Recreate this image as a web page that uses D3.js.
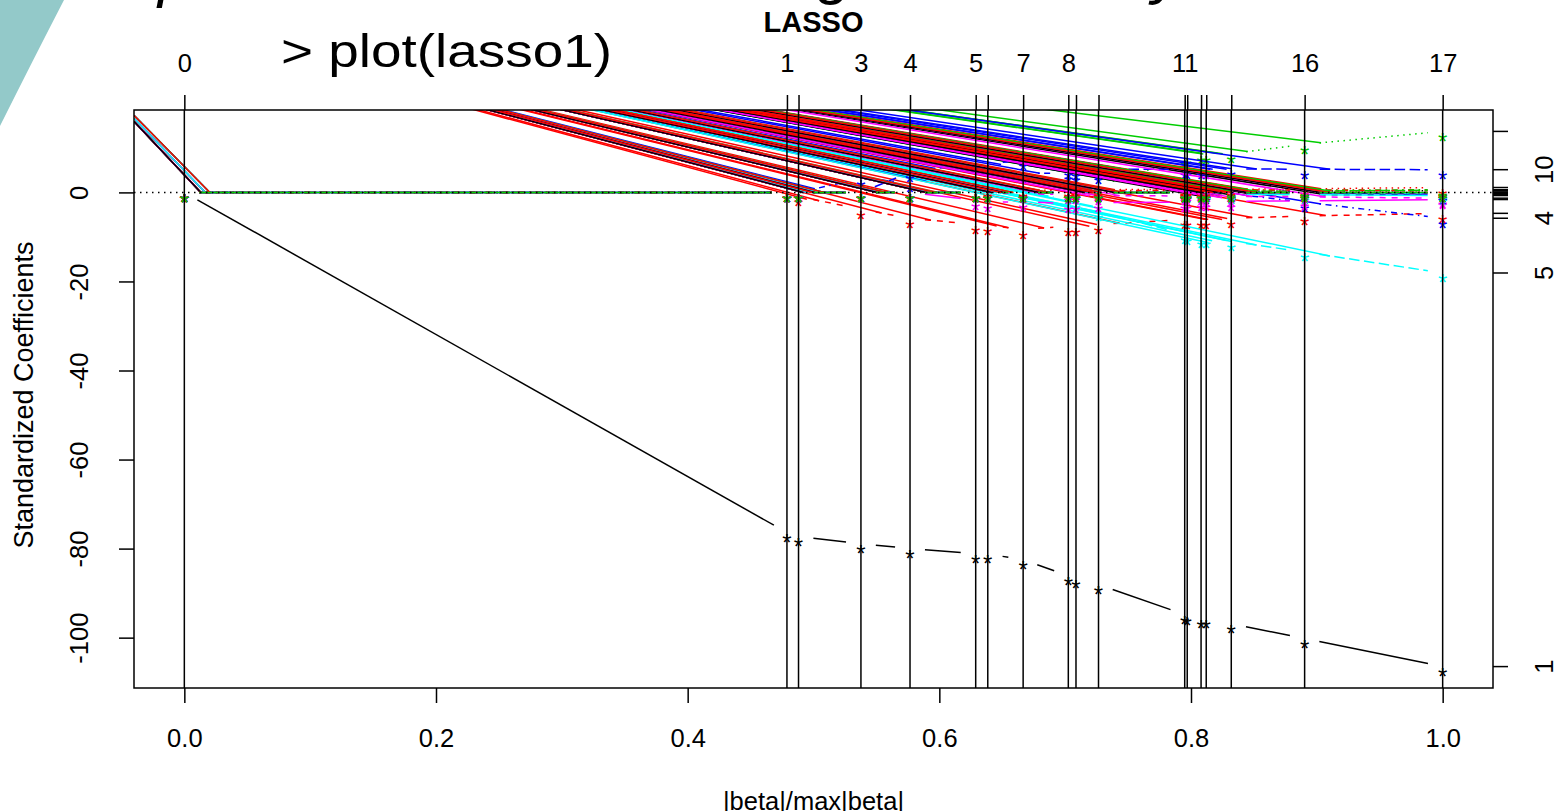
<!DOCTYPE html>
<html>
<head>
<meta charset="utf-8">
<title>LASSO coefficient path</title>
<script src="https://cdn.jsdelivr.net/npm/d3@7/dist/d3.min.js"></script>
<style>
  html, body { margin: 0; padding: 0; background: #fff; overflow: hidden; }
  svg { display: block; font-family: "Liberation Sans", Arial, sans-serif; }
</style>
</head>
<body>
<svg id="chart" width="1556" height="811"></svg>
<script>
// |beta| / max|beta| at each LARS breakpoint
const steps = [0, 0.4789, 0.4881, 0.5377, 0.5767, 0.6289, 0.6385, 0.6666, 0.7025,
               0.7086, 0.7265, 0.7950, 0.7970, 0.8080, 0.8121, 0.8320, 0.8903, 1.0];
// degrees of freedom printed on the top axis (blank where the label is crowded out)
const dfTopLabels = ["0", "1", "", "3", "4", "5", "", "7", "8", "", "", "11", "", "", "", "", "16", "17"];
const xTickValues = [0, 0.2, 0.4, 0.6, 0.8, 1.0];
const yTickValues = [-100, -80, -60, -40, -20, 0];

// standardized coefficient of each variable at every step
const coef1  = [0, -76.4, -77.3, -78.9, -80.0, -81.1, -81.2, -82.5, -86.1, -86.7, -88.1, -94.8, -95.1, -95.7, -95.8, -96.9, -100.2, -106.5];
const coef2  = [0, 0, -0.9, -3.8, -5.8, -7.2, -7.4, -8.3, -7.6, -7.6, -7.2, -6.1, -6.1, -6.1, -6.1, -5.8, -5.3, -4.7];
const coef3  = [0, 0, 0, 0, 0, 0, 0, 0, 0, 0, 1.5, 7.6, 7.8, 8.5, 8.6, 8.7, 10.8, 13.7];
const coef4  = [0, 0, 0, 3.1, 2.2, 3.8, 3.6, 4.3, 4.3, 4.1, 4.0, 0.3, 0.2, 0.1, -0.1, -0.3, -2.2, -5.8];
const coef5  = [0, 0, 0, 0, 0, 0, 0, 0, -1.5, -2.0, -4.3, -9.4, -9.6, -10.3, -10.4, -11.0, -13.4, -18.1];
const coef6  = [0, 0, 0, 0, 0, -1.8, -2.2, -2.1, -2.5, -2.5, -2.3, -2.2, -2.2, -2.1, -2.1, -2.0, -1.9, -1.6];
const coef7  = [0, 0, 0, 0, 0, 0, 0, 0, 0, 0, 0, -0.2, -0.3, -0.3, -0.4, -0.4, -0.5, -0.6];
const coef8  = [0, 0, 0, 0, 0, 0, 0.3, 0.5, 0.5, 0.6, 0.6, 0.7, 0.7, 0.7, 0.7, 0.7, 0.8, 1.1];
const coef9  = [0, 0, 0, 0, 0, 0, 0, 0, 0, 0, 0, 0, 0.2, 0.3, 0.3, 0.4, 0.5, 0.6];
const coef10 = [0, 0, 0, 0, 4.5, 6.7, 6.5, 7.1, 5.2, 5.0, 5.2, 5.2, 5.2, 5.2, 5.2, 5.3, 5.2, 5.1];
const coef11 = [0, 0, 0, 0, 0, 0, 0, 0, 0, 0, 0, 0, 0, -0.2, -0.3, -0.4, -0.5, -0.7];
const coef12 = [0, 0, 0, 0, 0, 0, 0, -0.3, -0.5, -0.6, -0.7, -0.8, -0.8, -0.8, -0.9, -0.9, -1.0, -1.3];
const coef13 = [0, 0, 0, 0, 0, 0, 0, 0, 0, 0, 0, 0, 0, 0, 0.1, 0.2, 0.3, 0.4];
const coef14 = [0, 0, 0, 0, 0, 0, 0, 0, 0, 0.3, 0.4, 0.5, 0.5, 0.5, 0.5, 0.6, 0.5, 0.4];
const coef15 = [0, 0, 0, 0, 0, 0, 0, 0, 0, 0, 0, 0, 0, 0, 0, 0.2, 0.3, 0.5];
const coef16 = [0, 0, 0, 0, 0, 0, 0, 0, 0, 0, 0, 0, 0, 0, 0, 0, -0.1, -0.4];
const coef17 = [0, 0, 0, 0, 0, 0, 0, 0, 0, 0, 0, 0, 0, 0, 0, 0, 0, -0.3];
// variables that never leave zero along the path
const coef18 = [0, 0, 0, 0, 0, 0, 0, 0, 0, 0, 0, 0, 0, 0, 0, 0, 0, 0];
const coef19 = [0, 0, 0, 0, 0, 0, 0, 0, 0, 0, 0, 0, 0, 0, 0, 0, 0, 0];
const coef20 = [0, 0, 0, 0, 0, 0, 0, 0, 0, 0, 0, 0, 0, 0, 0, 0, 0, 0];
const coef21 = [0, 0, 0, 0, 0, 0, 0, 0, 0, 0, 0, 0, 0, 0, 0, 0, 0, 0];

// variable numbers that get a printed label on the right-hand axis
const rightAxisLabelled = [1, 4, 5, 10];

// ------------------------------------------------------------------
const coefs = [coef1, coef2, coef3, coef4, coef5, coef6, coef7, coef8, coef9, coef10, coef11,
               coef12, coef13, coef14, coef15, coef16, coef17, coef18, coef19, coef20, coef21];

const svg = d3.select("#chart");
const box = { l: 134, r: 1493, t: 110, b: 688 };
const pad4 = ([a, b]) => { const d = (b - a) * 0.04; return [a - d, b + d]; };

const x = d3.scaleLinear().domain(pad4(d3.extent(steps))).range([box.l, box.r]);
const y = d3.scaleLinear().domain(pad4(d3.extent(coefs.flat()))).range([box.b, box.t]);

const palette = ["#000000", "#FF0000", "#00CD00", "#0000FF", "#00FFFF", "#FF00FF"];
const u = 1.5;                                   // dash unit, px
const ltyDash = [null, [4, 4], [1, 3], [1, 3, 4, 3], [7, 3]].map(p => p && p.map(v => v * u));
const lw = 1.5;
const gap = 15;                                  // type "b": space left around each point
const fontAxis = 25.5;

// dashed polylines in this export begin at the device origin, which leaves a solid
// stroke running from there to the end of each segment's first dash
const penOrigin = { step: -0.1433, coef: 47.0 };

// --- decoration of the slide the plot sits on
svg.append("path")
  .attr("d", "M0,0 L64,0 Q34,58 0,126 Z")
  .attr("fill", "#93c9c9");
svg.append("text").attr("x", 158).attr("y", -5).attr("font-size", 62)
  .attr("font-style", "italic").attr("fill", "#000").text("p");
svg.append("text").attr("x", 818).attr("y", -8).attr("font-size", 62)
  .attr("font-style", "italic").attr("fill", "#000").text("g");
svg.append("text").attr("x", 1152).attr("y", -8).attr("font-size", 62)
  .attr("font-style", "italic").attr("fill", "#000").text("y");
svg.append("text").attr("x", 281).attr("y", 67).attr("font-size", 46)
  .attr("textLength", 331).attr("lengthAdjust", "spacingAndGlyphs")
  .attr("fill", "#000").text("> plot(lasso1)");

// --- plotting region
svg.append("clipPath").attr("id", "plotclip")
  .append("rect").attr("x", box.l).attr("y", box.t)
  .attr("width", box.r - box.l).attr("height", box.b - box.t);
const plotG = svg.append("g").attr("clip-path", "url(#plotclip)");

const ox = x(penOrigin.step), oy = y(penOrigin.coef);

coefs.forEach((c, i) => {
  const col = palette[i % 6];
  const lty = i % 5;
  const dash = ltyDash[lty];
  const g = plotG.append("g");
  for (let k = 0; k < steps.length - 1; k++) {
    const x0 = x(steps[k]), y0 = y(c[k]);
    const x1 = x(steps[k + 1]), y1 = y(c[k + 1]);
    const len = Math.hypot(x1 - x0, y1 - y0);
    const ux = (x1 - x0) / len, uy = (y1 - y0) / len;
    const sx = x0 + gap * ux, sy = y0 + gap * uy;
    if (dash) {
      g.append("line")
        .attr("x1", ox).attr("y1", oy)
        .attr("x2", sx + dash[0] * ux).attr("y2", sy + dash[0] * uy)
        .attr("stroke", col).attr("stroke-width", lw);
    }
    if (len > 2 * gap) {
      g.append("line")
        .attr("x1", sx).attr("y1", sy)
        .attr("x2", x1 - gap * ux).attr("y2", y1 - gap * uy)
        .attr("stroke", col).attr("stroke-width", lw)
        .attr("stroke-dasharray", dash ? dash.join(",") : null);
    }
  }
  g.selectAll("text.pt").data(steps).join("text")
    .attr("class", "pt")
    .attr("x", d => x(d))
    .attr("y", (d, k) => y(c[k]) + 4)
    .attr("dy", "0.6em")
    .attr("text-anchor", "middle")
    .attr("font-size", 24)
    .attr("fill", col)
    .text("*");
});

// breakpoints
plotG.append("g").selectAll("line").data(steps).join("line")
  .attr("x1", d => x(d)).attr("x2", d => x(d))
  .attr("y1", box.t).attr("y2", box.b)
  .attr("stroke", "#000").attr("stroke-width", lw);

// zero reference
plotG.append("line")
  .attr("x1", box.l).attr("x2", box.r).attr("y1", y(0)).attr("y2", y(0))
  .attr("stroke", "#000").attr("stroke-width", lw)
  .attr("stroke-dasharray", ltyDash[2].join(","));

// frame
svg.append("rect").attr("x", box.l).attr("y", box.t)
  .attr("width", box.r - box.l).attr("height", box.b - box.t)
  .attr("fill", "none").attr("stroke", "#000").attr("stroke-width", lw);

function styleAxis(g) {
  g.attr("font-family", null).attr("font-size", fontAxis);
  g.select(".domain").remove();
  g.selectAll(".tick line").attr("stroke", "#000").attr("stroke-width", lw);
  g.selectAll(".tick text").attr("fill", "#000");
}

// bottom axis
const axB = svg.append("g").attr("transform", `translate(0,${box.b})`)
  .call(d3.axisBottom(x).tickValues(xTickValues).tickSize(15).tickFormat(d3.format(".1f")));
styleAxis(axB);
axB.selectAll(".tick text").attr("y", 747 - box.b).attr("dy", null);

// top axis: degrees of freedom
const axT = svg.append("g").attr("transform", `translate(0,${box.t})`)
  .call(d3.axisTop(x).tickValues(steps).tickSize(15).tickFormat((d, i) => dfTopLabels[i]));
styleAxis(axT);
axT.selectAll(".tick text").attr("y", 72 - box.t).attr("dy", null);

// left axis
const axL = svg.append("g").attr("transform", `translate(${box.l},0)`)
  .call(d3.axisLeft(y).tickValues(yTickValues).tickSize(15).tickFormat(d => String(d)));
styleAxis(axL);
axL.selectAll(".tick text")
  .attr("x", null).attr("dy", null).attr("text-anchor", "middle")
  .attr("transform", `translate(${88 - box.l},0) rotate(-90)`);

// right axis: final coefficient of every variable
const finals = coefs.map(c => c[c.length - 1]);
const axR = svg.append("g").attr("transform", `translate(${box.r},0)`);
axR.selectAll("line").data(finals).join("line")
  .attr("x1", 0).attr("x2", 15).attr("y1", d => y(d)).attr("y2", d => y(d))
  .attr("stroke", "#000").attr("stroke-width", lw);
axR.selectAll("text").data(rightAxisLabelled).join("text")
  .attr("transform", v => `translate(${1553 - box.r},${y(coefs[v - 1][coefs[v - 1].length - 1])}) rotate(-90)`)
  .attr("text-anchor", "middle").attr("font-size", fontAxis).attr("fill", "#000")
  .text(v => String(v));

// titles
svg.append("text").attr("x", (box.l + box.r) / 2).attr("y", 32)
  .attr("text-anchor", "middle").attr("font-weight", "bold").attr("font-size", 29)
  .text("LASSO");
svg.append("text").attr("x", (box.l + box.r) / 2).attr("y", 810)
  .attr("text-anchor", "middle").attr("font-size", fontAxis)
  .text("|beta|/max|beta|");
svg.append("text")
  .attr("transform", `translate(33,${(box.t + box.b) / 2 - 4}) rotate(-90)`)
  .attr("text-anchor", "middle").attr("font-size", 27)
  .text("Standardized Coefficients");
</script>
</body>
</html>
